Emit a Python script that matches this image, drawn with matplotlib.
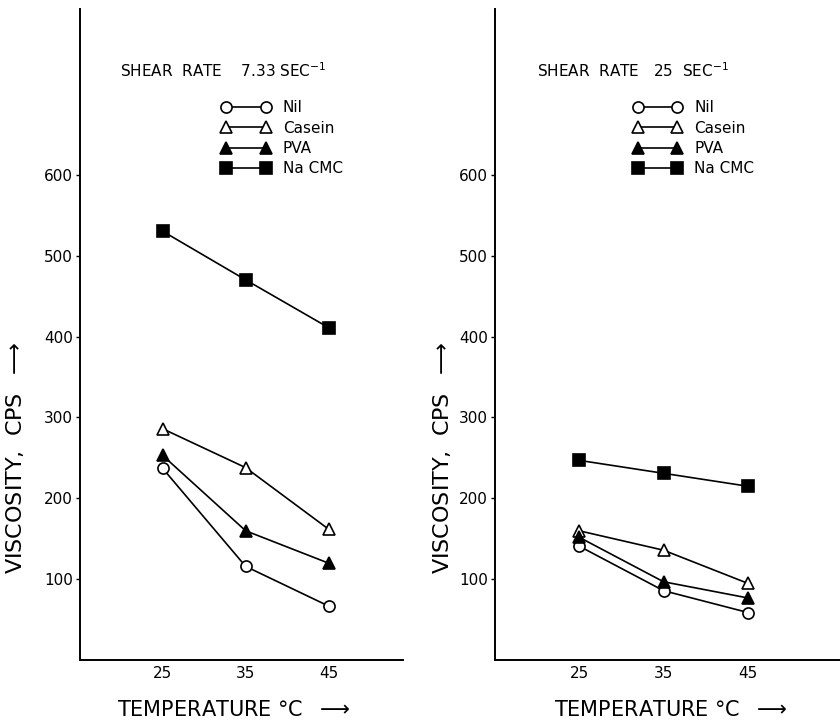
#! -*- coding: utf-8 -*-

#---------------------------------
# モジュールのインポート
#---------------------------------
import matplotlib.pyplot as plt

#---------------------------------
# データ
#---------------------------------
temps = [25, 35, 45]
series_names = ['Nil', 'Casein', 'PVA', 'Na CMC']

# shear rate 7.33 sec^-1
left_nil = [237, 116, 67]
left_casein = [286, 238, 162]
left_pva = [253, 160, 120]
left_nacmc = [530, 470, 411]

# shear rate 25 sec^-1
right_nil = [141, 86, 59]
right_casein = [160, 136, 95]
right_pva = [152, 97, 77]
right_nacmc = [247, 231, 215]

y_ticks = [100, 200, 300, 400, 500, 600]

#---------------------------------
# 関数
#---------------------------------
def draw_panel(ax, values, title, xmax, title_x, legend_x, xlab_pos, ylab_pos):
	styles = [('o', 'white'), ('^', 'white'), ('^', 'black'), ('s', 'black')]
	for name, vals, (mk, fc) in zip(series_names, values, styles):
		ax.plot(temps, vals, color='black', lw=1.2, marker=mk, ms=8,
				mfc=fc, mec='black', mew=1.2, label=name)

	ax.set_xlim(15, xmax)
	ax.set_ylim(0, 805)
	ax.set_xticks(temps)
	ax.set_yticks(y_ticks)
	ax.tick_params(axis='x', length=0, labelsize=11, pad=4)
	ax.tick_params(axis='y', length=3, width=1, labelsize=11, pad=2)
	for s in ['top', 'right']:
		ax.spines[s].set_visible(False)
	for s in ['left', 'bottom']:
		ax.spines[s].set_linewidth(1.4)

	ax.text(title_x, 0.905, title, transform=ax.transAxes, fontsize=11,
			ha='left', va='center')
	ax.legend(loc='upper left', bbox_to_anchor=(legend_x, 0.869), frameon=False,
			numpoints=2, handlelength=3.2, handletextpad=0.8, labelspacing=0.35,
			fontsize=11, borderaxespad=0)

	ax.set_xlabel('TEMPERATURE °C  $\\longrightarrow$', fontsize=15)
	ax.set_ylabel('VISCOSITY,  CPS  $\\longrightarrow$', fontsize=16)
	ax.xaxis.set_label_coords(*xlab_pos)
	ax.yaxis.set_label_coords(*ylab_pos)
	return

def main():
	fig = plt.figure(figsize=(8.4, 7.24), dpi=100)
	ax1 = fig.add_axes([0.095, 0.088, 0.385, 0.90])
	ax2 = fig.add_axes([0.589, 0.088, 0.42, 0.90])

	draw_panel(ax1, [left_nil, left_casein, left_pva, left_nacmc],
			'SHEAR  RATE    7.33 SEC$^{-1}$', 54, 0.124, 0.42,
			(0.477, -0.061), (-0.165, 0.31))
	draw_panel(ax2, [right_nil, right_casein, right_pva, right_nacmc],
			'SHEAR  RATE   25  SEC$^{-1}$', 56.8, 0.12, 0.375,
			(0.50, -0.061), (-0.117, 0.31))

	fig.savefig('out.png', dpi=100)
	plt.close()
	return

#---------------------------------
# メイン処理
#---------------------------------
if __name__ == '__main__':
	main()
